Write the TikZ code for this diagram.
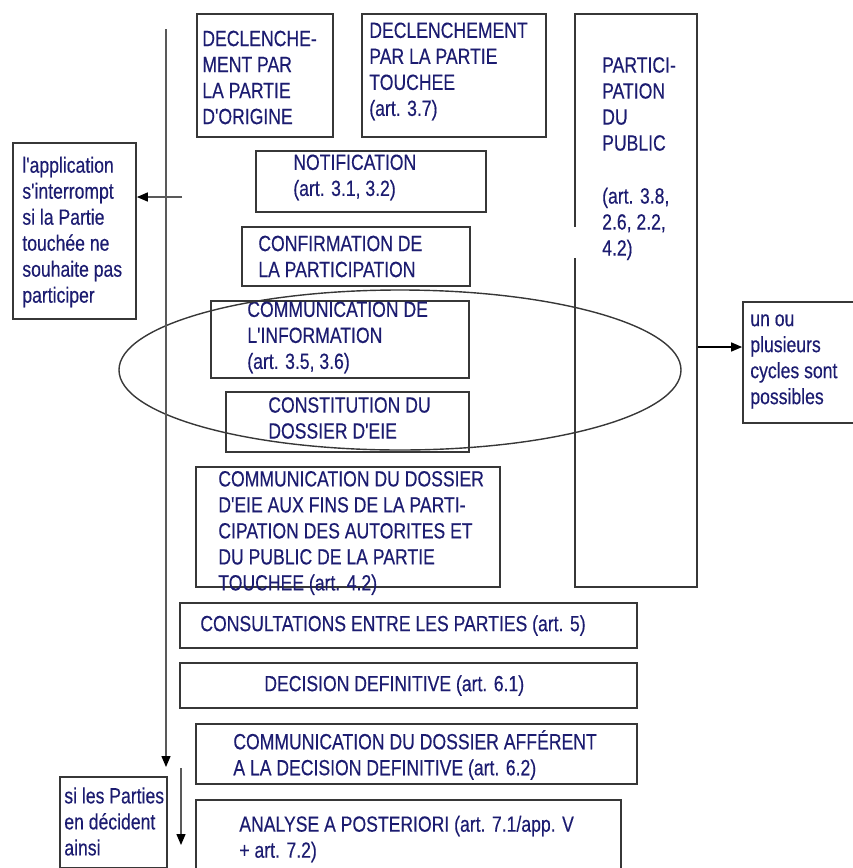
\documentclass[tikz,border=0pt]{standalone}
\usepackage{fontspec}
\newfontfamily\etroite{Liberation Sans}[FakeStretch=0.8, FakeBold=0.4]
\usetikzlibrary{positioning,arrows.meta}
\definecolor{encre}{RGB}{28,28,112}
\definecolor{trait}{RGB}{55,55,55}
\begin{document}
\begin{tikzpicture}[x=1pt,y=-1pt,
  etape/.style={draw=trait, line width=1.7pt, rectangle, inner sep=0pt},
  texte/.style={font=\etroite\fontsize{22}{26}\selectfont, text=encre, align=left, inner sep=0pt},
  fleche/.style={draw=black!65, line width=1.4pt, -{Triangle[length=11pt,width=9pt,color=black]}}]
\useasboundingbox (0,0) rectangle (852,868);
\node[etape, minimum width=136pt, minimum height=123pt] (origine) at (265,75.5) {};
\node[texte, right=6pt of origine.west, yshift=-2pt] (origineT) {DECLENCHE-\\MENT PAR\\LA PARTIE\\D'ORIGINE};
\node[etape, minimum width=184pt, minimum height=123pt] (touchee) at (454,75.5) {};
\node[texte, right=8pt of touchee.west, yshift=4pt] (toucheeT) {DECLENCHEMENT\\PAR LA PARTIE\\TOUCHEE\\(art. 3.7)};
\node[etape, minimum width=122pt, minimum height=573pt] (public) at (636,300.5) {};
\draw[white, line width=4pt] (public.west |- 0,227) -- (public.west |- 0,258);
\node[texte, anchor=north west] (publicT) at (602,57) {PARTICI-\\PATION\\DU\\PUBLIC\\[27pt](art. 3.8,\\2.6, 2.2,\\4.2)};
\node[etape, minimum width=123pt, minimum height=176pt] (appli) at (74.5,231) {};
\node[texte, right=10pt of appli.west, yshift=-1pt] (appliT) {l'application\\s'interrompt\\si la Partie\\touchée ne\\souhaite pas\\participer};
\node[etape, minimum width=230pt, minimum height=61pt] (notif) at (371,181.5) {};
\node[texte, right=38pt of notif.west, yshift=4pt] (notifT) {NOTIFICATION\\(art. 3.1, 3.2)};
\node[etape, minimum width=228pt, minimum height=59pt] (confirm) at (356,256.5) {};
\node[texte, right=17pt of confirm.west] (confirmT) {CONFIRMATION DE\\LA PARTICIPATION};
\node[etape, minimum width=258pt, minimum height=77pt] (info) at (340,339.5) {};
\node[texte, right=37pt of info.west, yshift=2pt] (infoT) {COMMUNICATION DE\\L'INFORMATION\\(art. 3.5, 3.6)};
\node[etape, minimum width=243pt, minimum height=60pt] (dossier) at (347.5,422) {};
\node[texte, right=43pt of dossier.west, yshift=4pt] (dossierT) {CONSTITUTION DU\\DOSSIER D'EIE};
\node[etape, minimum width=304pt, minimum height=120pt] (diffusion) at (348,527) {};
\node[texte, right=23pt of diffusion.west, yshift=-6pt] (diffusionT) {COMMUNICATION DU DOSSIER\\D'EIE AUX FINS DE LA PARTI-\\CIPATION DES AUTORITES ET\\DU PUBLIC DE LA PARTIE\\TOUCHEE (art. 4.2)};
\node[etape, minimum width=115pt, minimum height=121pt] (cycles) at (800.5,362.5) {};
\node[texte, right=8pt of cycles.west, yshift=1pt] (cyclesT) {un ou\\plusieurs\\cycles sont\\possibles};
\node[etape, minimum width=457pt, minimum height=45pt] (consult) at (408.5,625.5) {};
\node[texte, right=21pt of consult.west] (consultT) {CONSULTATIONS ENTRE LES PARTIES (art. 5)};
\node[etape, minimum width=457pt, minimum height=45pt] (decision) at (408.5,685.5) {};
\node[texte, right=85pt of decision.west] (decisionT) {DECISION DEFINITIVE (art. 6.1)};
\node[etape, minimum width=441pt, minimum height=60pt] (afferent) at (416.5,754) {};
\node[texte, right=38pt of afferent.west, yshift=-1pt] (afferentT) {COMMUNICATION DU DOSSIER AFFÉRENT\\A LA DECISION DEFINITIVE (art. 6.2)};
\node[etape, minimum width=425pt, minimum height=80pt] (analyse) at (408.5,840) {};
\node[texte, right=44pt of analyse.west, yshift=1pt] (analyseT) {ANALYSE A POSTERIORI (art. 7.1/app. V\\+ art. 7.2)};
\node[etape, minimum width=107pt, minimum height=91pt] (ainsi) at (113.5,822.5) {};
\node[texte, right=5pt of ainsi.west, yshift=1pt] (ainsiT) {si les Parties\\en décident\\ainsi};
\draw[draw=trait, line width=1.4pt] (400,370) ellipse [x radius=281pt, y radius=80pt];
\coordinate (haut) at (166,29);
\coordinate (bas) at (166,767);
\draw[fleche] (haut) -- (bas);
\coordinate (depart) at (182,197);
\draw[fleche] (depart) -- (depart -| appli.east);
\coordinate (debut) at (181,768);
\coordinate (fin) at (181,845);
\draw[fleche] (debut) -- (fin);
\coordinate (boucle) at (0,347);
\draw[fleche, draw=black] (public.east |- boucle) -- (cycles.west |- boucle);
\end{tikzpicture}
\end{document}
